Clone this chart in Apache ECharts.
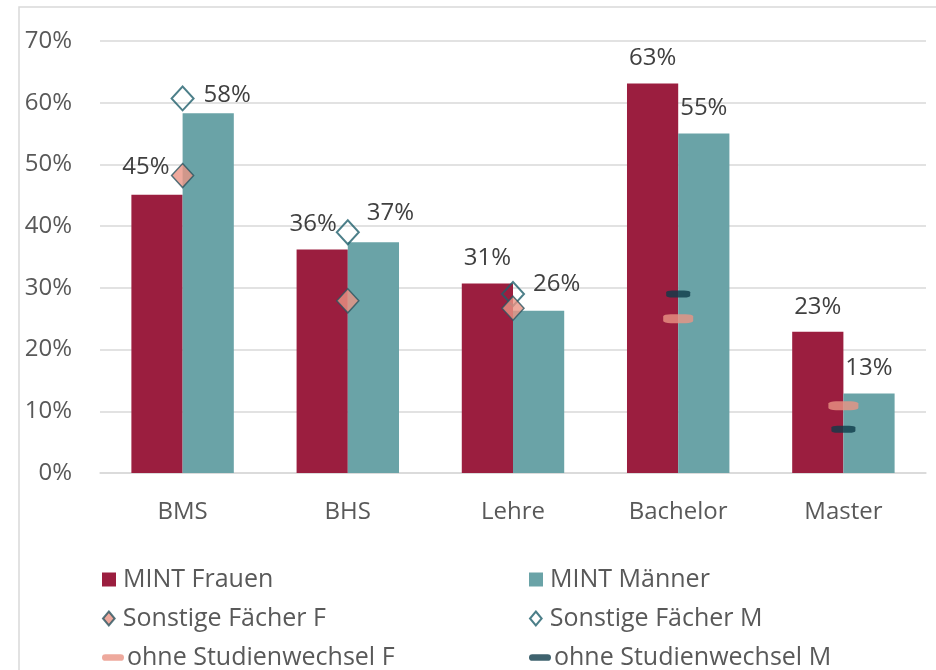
<!DOCTYPE html>
<html lang="de">
<head>
  <meta charset="UTF-8">
  <title>MINT</title>
  <script src="https://cdn.jsdelivr.net/npm/echarts@6/dist/echarts.min.js"></script>
  <style>
    * { margin: 0; padding: 0; }
    body { background: #fff; }
    #chart { width: 936px; height: 670px; }
  </style>
</head>
<body>
  <div id="chart"></div>
  <script>
    // Daten (Anteile in %)
    var categories = ['BMS', 'BHS', 'Lehre', 'Bachelor', 'Master'];
    var mintFrauen = [45.1, 36.2, 30.7, 63.1, 22.9];
    var mintMaenner = [58.3, 37.4, 26.3, 55.0, 12.9];
    var sonstigeF = [48.2, 27.9, 26.7, null, null];
    var sonstigeM = [60.7, 39.0, 29.0, null, null];
    var ohneWechselF = [null, null, null, 25.0, 10.9];
    var ohneWechselM = [null, null, null, 29.0, 7.1];
    var yTicks = [0, 10, 20, 30, 40, 50, 60, 70];

    var FONT = '"Open Sans", sans-serif';
    var cRed = '#9b1e3f';
    var cTeal = '#6aa3a7';
    var cSalmon = '#ea9385';
    var cNavy = '#0e3b4a';

    // Verschiebung der Beschriftungen (wie im Original manuell gesetzt)
    var shiftF = [[-11, -3], [-9, 0], [0, 0], [0, 0], [0, 0]];
    var shiftM = [[19, 7], [17, -4], [18, -2], [0, 0], [0, 0]];

    var labelStyle = {
      show: true,
      position: 'top',
      distance: 13,
      fontFamily: FONT,
      fontSize: 24,
      color: '#404040',
      formatter: function (p) { return Math.round(p.value) + '%'; }
    };

    var iconSquare = 'path://M0,0h10v10h-10z';
    var iconDiamond = 'path://M5,0L10,6L5,12L0,6z';
    var iconDash = 'path://M3,0h16a3,3 0 0 1 0,7h-16a3,3 0 0 1 0,-7z';

    // Legende: zwei Spalten, drei Zeilen
    var legendItems = [
      ['MINT Frauen', iconSquare, 102, 579],
      ['MINT Männer', iconSquare, 529, 579],
      ['Sonstige Fächer F', iconDiamond, 102, 618],
      ['Sonstige Fächer M', iconDiamond, 529, 618],
      ['ohne Studienwechsel F', iconDash, 102, 657],
      ['ohne Studienwechsel M', iconDash, 529, 657]
    ];
    var legends = legendItems.map(function (it) {
      return {
        left: it[2],
        top: it[3] - 12,
        padding: 0,
        itemWidth: 22,
        itemHeight: 14,
        itemGap: 0,
        selectedMode: false,
        textStyle: { fontFamily: FONT, fontSize: 25, color: '#595959', padding: [0, 0, 0, -2] },
        data: [{ name: it[0], icon: it[1] }]
      };
    });

    var myChart = echarts.init(document.getElementById('chart'));
    var option = {
      animation: false,
      graphic: [{
        type: 'rect',
        shape: { x: 19, y: 7, width: 940, height: 700 },
        style: { fill: 'none', stroke: '#d9d9d9', lineWidth: 1.5 },
        silent: true
      }],
      grid: { left: 100, right: 10, top: 41, bottom: 197 },
      legend: legends,
      xAxis: {
        type: 'category',
        data: categories,
        axisTick: { show: false },
        axisLine: { lineStyle: { color: '#d9d9d9', width: 1.5 } },
        axisLabel: { fontFamily: FONT, fontSize: 24, color: '#595959', margin: 27 }
      },
      yAxis: {
        type: 'value',
        min: 0,
        max: 70,
        interval: 10,
        axisLabel: {
          fontFamily: FONT, fontSize: 24, color: '#595959', margin: 28,
          formatter: function (v) { return yTicks.indexOf(v) >= 0 ? v + '%' : ''; }
        },
        splitLine: { lineStyle: { color: '#d9d9d9', width: 1.5 } }
      },
      series: [{
        name: 'MINT Frauen',
        type: 'bar',
        barWidth: '31%',
        barGap: '0%',
        itemStyle: { color: cRed },
        label: labelStyle,
        data: mintFrauen.map(function (v, i) {
          return { value: v, label: { offset: shiftF[i] } };
        })
      }, {
        name: 'MINT Männer',
        type: 'bar',
        barWidth: '31%',
        barGap: '0%',
        itemStyle: { color: cTeal },
        label: labelStyle,
        data: mintMaenner.map(function (v, i) {
          return { value: v, label: { offset: shiftM[i] } };
        })
      }, {
        name: 'Sonstige Fächer M',
        type: 'scatter',
        symbol: 'diamond',
        symbolSize: [22, 24],
        itemStyle: { color: 'rgba(255,255,255,0)', borderColor: '#1f5f6c', borderWidth: 2 },
        data: sonstigeM
      }, {
        name: 'Sonstige Fächer F',
        type: 'scatter',
        symbol: 'diamond',
        symbolSize: [22, 24],
        itemStyle: { color: cSalmon, borderColor: '#2c5560', borderWidth: 1.5 },
        data: sonstigeF
      }, {
        name: 'ohne Studienwechsel F',
        type: 'scatter',
        symbol: 'roundRect',
        symbolSize: [30, 9],
        itemStyle: { color: cSalmon },
        data: ohneWechselF
      }, {
        name: 'ohne Studienwechsel M',
        type: 'scatter',
        symbol: 'roundRect',
        symbolSize: [24, 7],
        itemStyle: { color: cNavy },
        data: ohneWechselM
      }]
    };
    myChart.setOption(option);
  </script>
</body>
</html>
